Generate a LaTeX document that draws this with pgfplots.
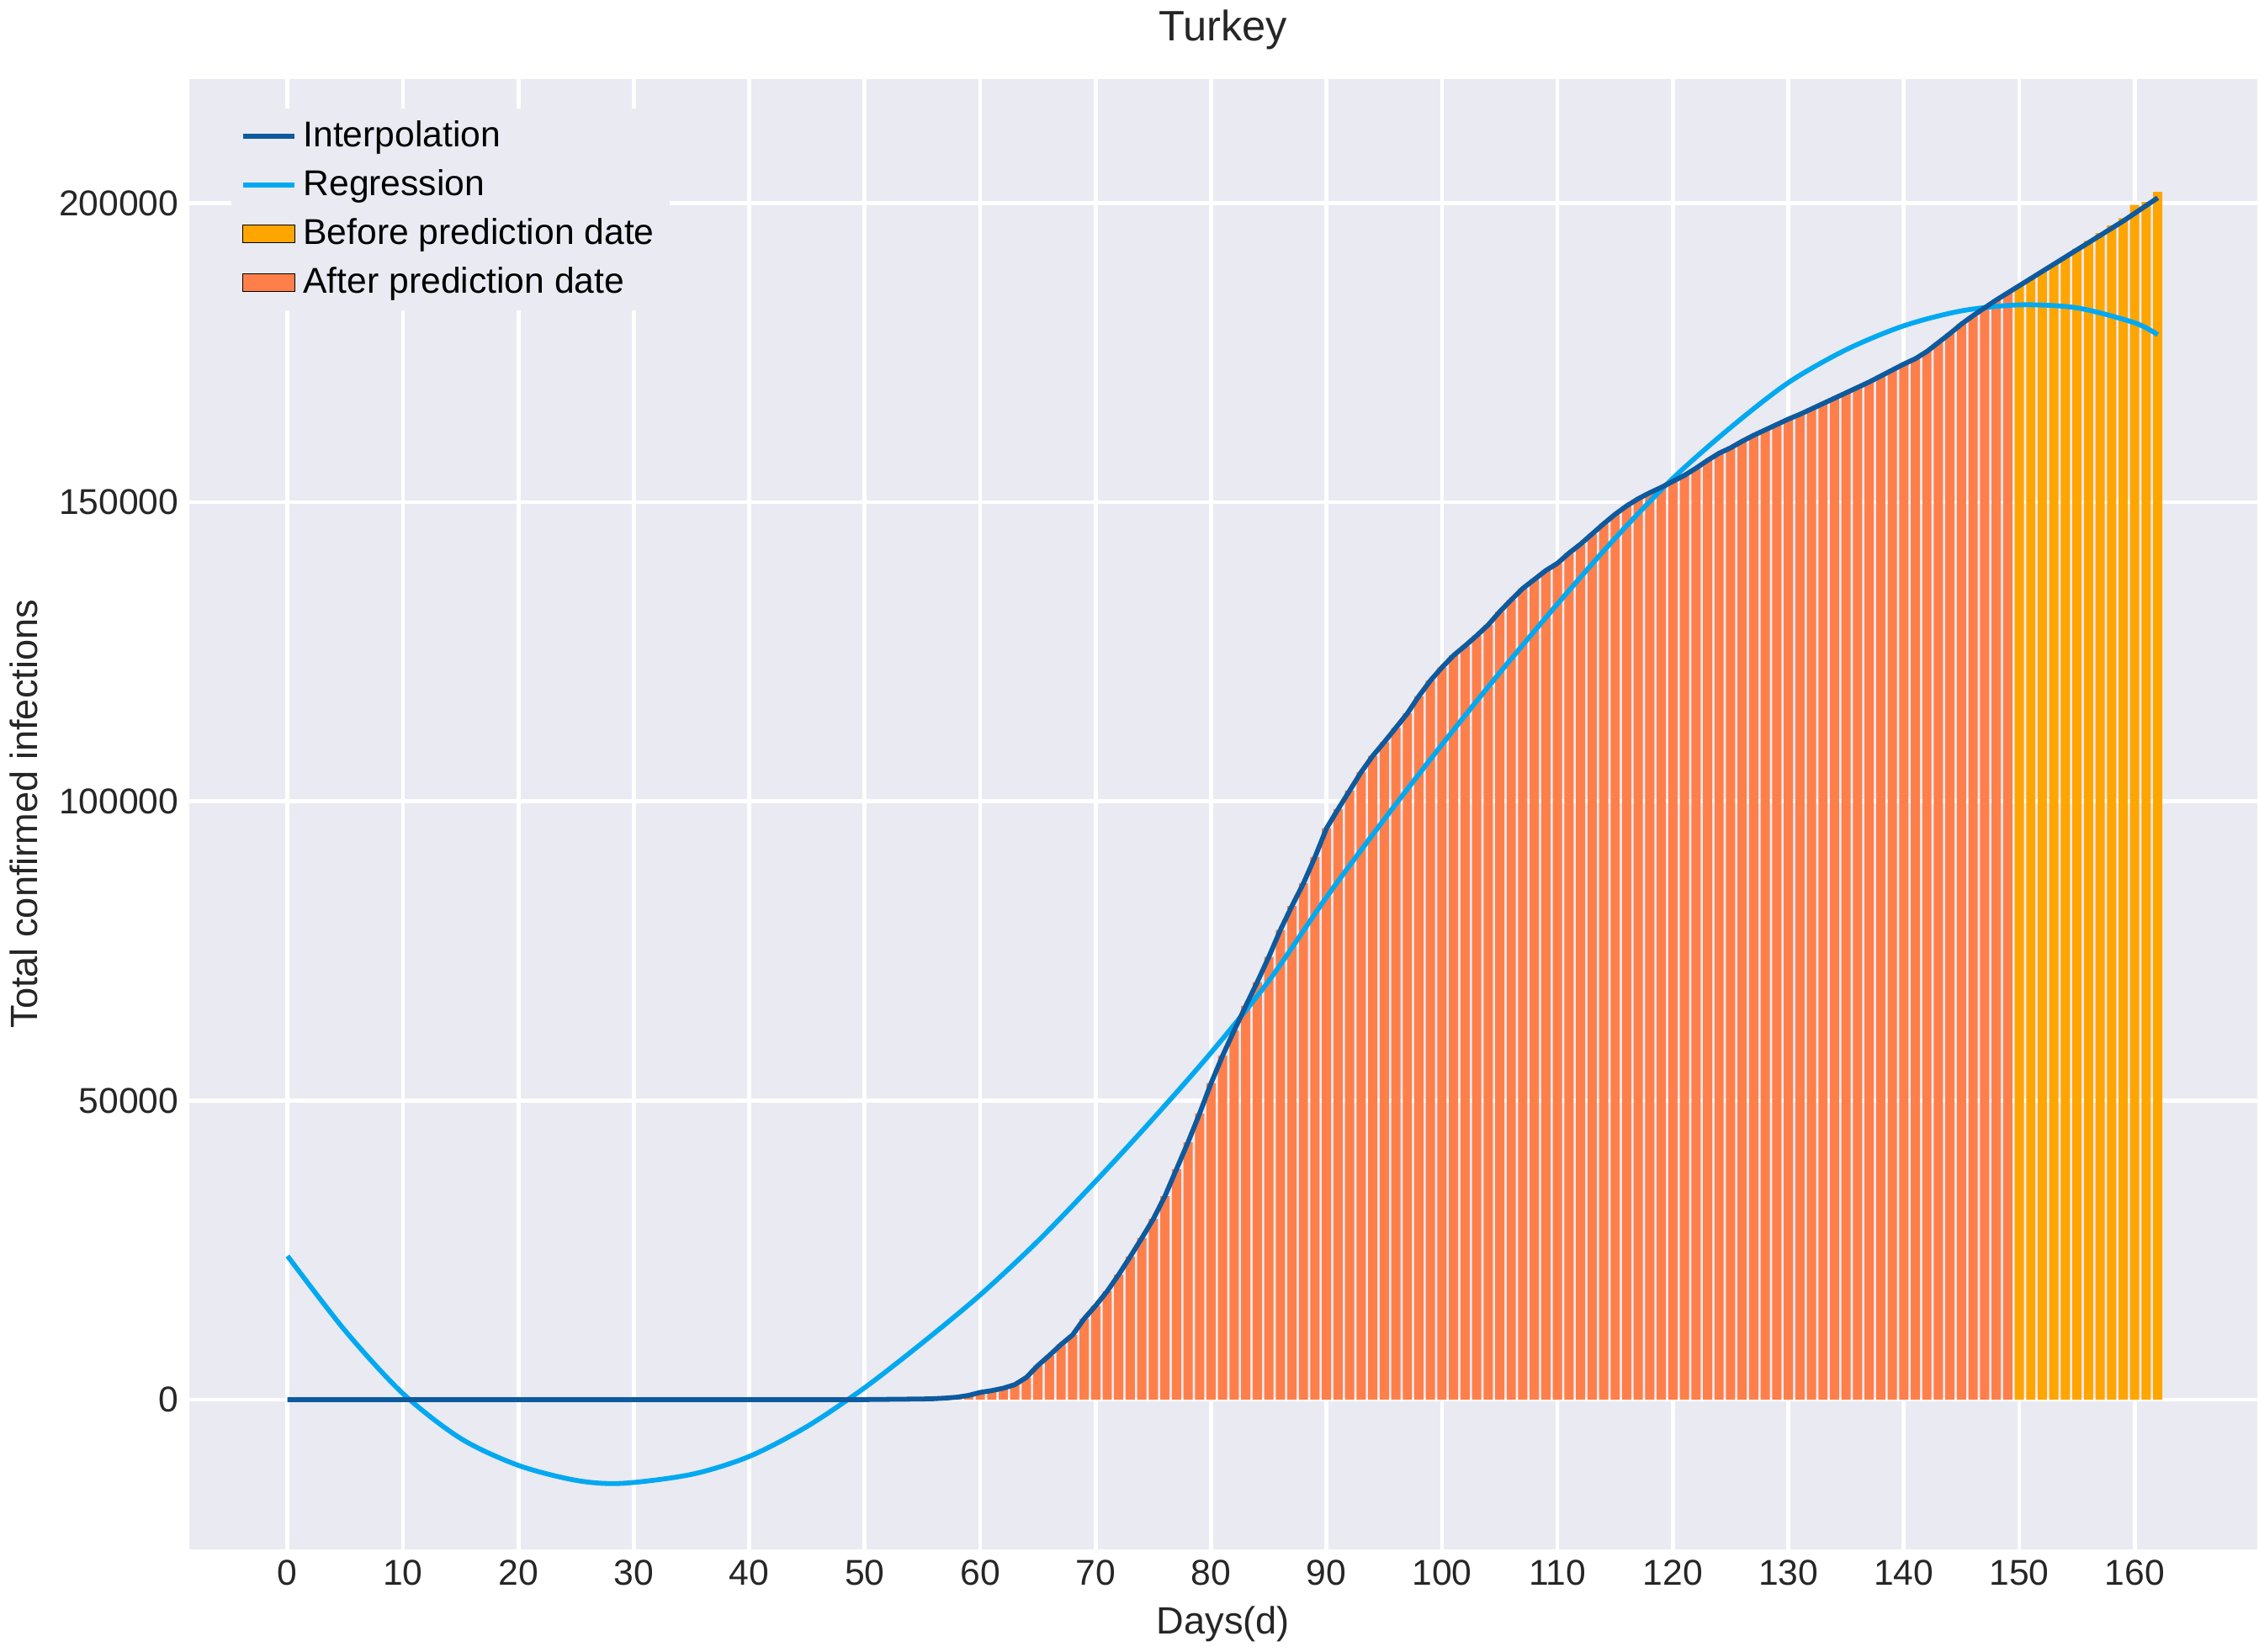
\documentclass[border=0pt]{standalone}
\usepackage{pgfplots}
\pgfplotsset{compat=1.18}
\usepackage{fontspec}
\setmainfont{Liberation Sans}
\definecolor{bg}{HTML}{EAEAF2}
\definecolor{interp}{HTML}{0D5A9E}
\definecolor{regr}{HTML}{03A9F0}
\definecolor{before}{HTML}{FFA500}
\definecolor{after}{HTML}{FF7F4A}
\begin{document}
\begin{tikzpicture}
\begin{axis}[
 scale only axis, width=23.9cm, height=17.0cm,
 xmin=-8.5, xmax=170.6, ymin=-25000, ymax=220800,
 axis background/.style={fill=bg}, axis line style={draw=none},
 grid=major, major grid style={white, line width=1.3pt},
 tick style={draw=none},
 xtick={0,10,...,160}, ytick={0,50000,100000,150000,200000},
 xticklabels={0,10,20,30,40,50,60,70,80,90,100,110,120,130,140,150,160},
 yticklabels={0,50000,100000,150000,200000},
 scaled y ticks=false,
 ticklabel style={font=\fontsize{11.8}{14}\selectfont, text=black!85},
 label style={font=\fontsize{12.5}{15}\selectfont, text=black!85},
 xlabel={Days(d)}, ylabel={Total confirmed infections},
 title={Turkey}, title style={font=\fontsize{14}{16}\selectfont, text=black!85},
 legend style={at={(0.02,0.98)}, anchor=north west, draw=none, fill=bg, font=\fontsize{11.8}{14}\selectfont, row sep=2pt},
 legend cell align=left,
]
\addlegendimage{interp, line width=1.6pt}
\addlegendentry{Interpolation}
\addlegendimage{regr, line width=1.6pt}
\addlegendentry{Regression}
\addlegendimage{area legend, fill=before, draw=none}
\addlegendentry{Before prediction date}
\addlegendimage{area legend, fill=after, draw=none}
\addlegendentry{After prediction date}
\addplot[ybar, bar width=0.8, bar shift=0pt, fill=after, draw=none, forget plot] coordinates {
(55,100)(56,150)(57,250)(58,400)(59,700)(60,1200)(61,1500)(62,1900)(63,2500)(64,3700)(65,5700)(66,7400)(67,9200)(68,10800)(69,13500)(70,15700)(71,18100)(72,20900)(73,23900)(74,27000)(75,30200)(76,34000)(77,38500)(78,43000)(79,47800)(80,52900)(81,57500)(82,61700)(83,65800)(84,69800)(85,74000)(86,78500)(87,82500)(88,86300)(89,90700)(90,95500)(91,98700)(92,101800)(93,104900)(94,107600)(95,109900)(96,112300)(97,114700)(98,117600)(99,120200)(100,122400)(101,124400)(102,126000)(103,127700)(104,129500)(105,131700)(106,133700)(107,135600)(108,137100)(109,138600)(110,139800)(111,141500)(112,143000)(113,144700)(114,146400)(115,148000)(116,149400)(117,150600)(118,151600)(119,152500)(120,153500)(121,154500)(122,155700)(123,157000)(124,158200)(125,159100)(126,160200)(127,161200)(128,162100)(129,163000)(130,163900)(131,164700)(132,165600)(133,166500)(134,167400)(135,168300)(136,169200)(137,170100)(138,171100)(139,172100)(140,173100)(141,174000)(142,175200)(143,176700)(144,178200)(145,179800)(146,181200)(147,182500)(148,183800)(149,185000)};
\addplot[ybar, bar width=0.8, bar shift=0pt, fill=before, draw=none, forget plot] coordinates {
(150,186200)(151,187400)(152,188600)(153,189800)(154,191000)(155,192400)(156,193700)(157,195000)(158,196300)(159,197500)(160,199700)(161,200200)(162,201900)};
\addplot[regr, line width=1.6pt, smooth, forget plot] coordinates {
(0,24000)(5,11500)(10,1000)(15,-6500)(20,-11000)(25,-13500)(29,-14000)(35,-12500)(40,-9500)(45,-4500)(50,2000)(55,9500)(60,17500)(65,26500)(70,36500)(75,47000)(80,58000)(85,70000)(90,84000)(95,97000)(100,109500)(105,121500)(110,133000)(115,144000)(120,154000)(125,162500)(130,170000)(135,175500)(140,179500)(145,182000)(150,183000)(155,182500)(160,180000)(162,178000)};
\addplot[interp, line width=1.6pt, forget plot] coordinates {
(0,0)(50,0)(55,100)(56,150)(57,250)(58,400)(59,700)(60,1200)(61,1500)(62,1900)(63,2500)(64,3700)(65,5700)(66,7400)(67,9200)(68,10800)(69,13500)(70,15700)(71,18100)(72,20900)(73,23900)(74,27000)(75,30200)(76,34000)(77,38500)(78,43000)(79,47800)(80,52900)(81,57500)(82,61700)(83,65800)(84,69800)(85,74000)(86,78500)(87,82500)(88,86300)(89,90700)(90,95500)(91,98700)(92,101800)(93,104900)(94,107600)(95,109900)(96,112300)(97,114700)(98,117600)(99,120200)(100,122400)(101,124400)(102,126000)(103,127700)(104,129500)(105,131700)(106,133700)(107,135600)(108,137100)(109,138600)(110,139800)(111,141500)(112,143000)(113,144700)(114,146400)(115,148000)(116,149400)(117,150600)(118,151600)(119,152500)(120,153500)(121,154500)(122,155700)(123,157000)(124,158200)(125,159100)(126,160200)(127,161200)(128,162100)(129,163000)(130,163900)(131,164700)(132,165600)(133,166500)(134,167400)(135,168300)(136,169200)(137,170100)(138,171100)(139,172100)(140,173100)(141,174000)(142,175200)(143,176700)(144,178200)(145,179800)(146,181200)(147,182500)(148,183800)(149,185000)(150,186200)(151,187400)(152,188600)(153,189800)(154,191000)(155,192200)(156,193400)(157,194600)(158,195800)(159,197000)(160,198300)(161,199600)(162,200900)};
\end{axis}
\end{tikzpicture}
\end{document}
